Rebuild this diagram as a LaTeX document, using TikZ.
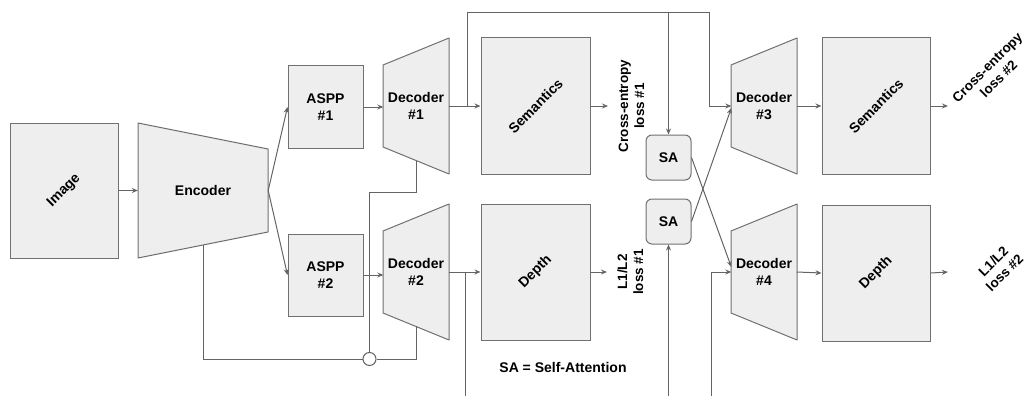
\documentclass[tikz,border=0pt]{standalone}
\usepackage{fontspec}
\setmainfont{Liberation Sans}
\usepackage{tikz}
\usetikzlibrary{arrows.meta, positioning, calc}
\definecolor{boxgray}{RGB}{238,238,238}
\definecolor{edgegray}{RGB}{112,112,112}
\definecolor{wiregray}{RGB}{100,100,100}
\newcommand{\twolines}[2]{\begin{tabular}{@{}c@{}}#1\\#2\end{tabular}}
\tikzset{
  block/.style={rectangle, draw=edgegray, fill=boxgray, align=center,
    font=\fontsize{14}{17}\selectfont\bfseries, line width=1pt, inner sep=0pt},
  tapered/.style={draw=edgegray, fill=boxgray, line width=1pt, line join=round},
  taptext/.style={rectangle, align=center, font=\fontsize{14}{17}\selectfont\bfseries,
    minimum width=65pt, minimum height=82pt, inner sep=0pt},
  samodule/.style={block, rounded corners=6pt, minimum width=45pt, minimum height=45pt},
  losstext/.style={align=center, font=\fontsize{13.5}{16}\selectfont\bfseries, inner sep=0pt},
  arrow/.style={-{Stealth[length=6pt, width=5pt]}, line width=1pt, color=wiregray},
  line/.style={line width=1pt, color=wiregray}
}

\begin{document}
\begin{tikzpicture}[x=1pt, y=-1pt]
  \useasboundingbox (0,0) rectangle (1033,396);
  % Input and encoder
  \node[block, minimum width=108pt, minimum height=135pt] (img) at (64,190.5) {\rotatebox{45}{Image}};
  \draw[tapered] (138,123) -- (268,149) -- (268,232) -- (138,258) -- cycle;
  \node[taptext, minimum width=130pt, minimum height=83pt] (enc) at (203,190.5) {Encoder};
  \coordinate (encbot) at (203,245);
  % ASPP blocks
  \node[block, minimum width=75pt, minimum height=82pt] (aspp1) at (325.5,107) {ASPP\\\#1};
  \node[block, minimum width=75pt, minimum height=82pt] (aspp2) at (325.5,275) {ASPP\\\#2};
  % Decoders, narrow side on the left
  \foreach \x/\y/\n in {383/106/1, 383/272/2, 731/106/3, 731/272/4} {
    \draw[tapered] (\x,\y-41) -- (\x+66,\y-68) -- (\x+66,\y+68) -- (\x,\y+41) -- cycle;
    \node[taptext] (dec\n) at (\x+33,\y) {Decoder\\\#\n};
  }
  % Task outputs
  \node[block, minimum width=109pt, minimum height=136pt] (sem1) at (535.5,106) {\rotatebox{45}{Semantics}};
  \node[block, minimum width=109pt, minimum height=136pt] (dep1) at (535.5,272) {\rotatebox{45}{Depth}};
  \node[block, minimum width=108pt, minimum height=136pt] (sem2) at (876,106) {\rotatebox{45}{Semantics}};
  \node[block, minimum width=108pt, minimum height=136pt] (dep2) at (876,273) {\rotatebox{45}{Depth}};
  % Self-attention
  \node[samodule] (sa1) at (668.5,157.5) {SA};
  \node[samodule] (sa2) at (668.5,221.5) {SA};
  \node[circle, draw=wiregray, fill=white, line width=1pt, minimum size=13pt, inner sep=0pt] (sum) at (369.5,359) {};
  % Losses
  \node[losstext] (ce1) at (633,106) {\rotatebox{90}{\twolines{Cross-entropy}{loss \#1}}};
  \node[losstext] (l1) at (632,272) {\rotatebox{90}{\twolines{L1/L2}{loss \#1}}};
  \node[losstext] (ce2) at (994,74) {\rotatebox{45}{\twolines{Cross-entropy}{loss \#2}}};
  \node[losstext] (l2) at (1000,268) {\rotatebox{45}{\twolines{L1/L2}{loss \#2}}};
  \node[font=\fontsize{14}{17}\selectfont\bfseries] (sanote) at (563,367) {SA = Self-Attention};
  \coordinate (ce1in) at (608,106);
  \coordinate (l1in) at (607,272);
  \coordinate (ce2in) at (948,106);
  \coordinate (l2in) at (948,272);
  % Main path
  \draw[arrow] (img.east) -- (enc.west);
  \draw[arrow] (enc.east) -- (aspp1.west);
  \draw[arrow] (enc.east) -- (aspp2.west);
  \draw[arrow] (aspp1.east) -- (aspp1.east -| dec1.west);
  \draw[arrow] (aspp2.east) -- (aspp2.east -| dec2.west);
  \draw[arrow] (dec1.east) -- (sem1.west);
  \draw[arrow] (dec2.east) -- (dep1.west);
  \draw[arrow] (sem1.east) -- (ce1in);
  \draw[arrow] (dep1.east) -- (l1in);
  \draw[arrow] (dec3.east) -- (sem2.west);
  \draw[arrow] (dec4.east) -- (dep2.west);
  \draw[arrow] (sem2.east) -- (ce2in);
  \draw[arrow] (dep2.east) -- (l2in);
  % Skip connections
  \coordinate (dec1bot) at (416,161);
  \coordinate (dec2bot) at (416,326);
  \coordinate (skipknee) at (369.5,192);
  \draw[line] (encbot) |- (sum.west);
  \draw[line] (sum.east) -| (dec2bot);
  \draw[line] (sum.north) -- (skipknee) -| (dec1bot);
  % Second stage feeds
  \coordinate (tap1) at (467,106);
  \coordinate (topL) at (467,13);
  \coordinate (topR) at (709,13);
  \draw[arrow] (tap1) -- (topL) -- (topR) |- (dec3.west);
  \draw[arrow] (sa1 |- topL) -- (sa1.north);
  \coordinate (tap2) at (465,272);
  \coordinate (botL) at (465,396);
  \coordinate (botR) at (711,396);
  \draw[line] (tap2) -- (botL);
  \draw[arrow] (sa2 |- botL) -- (sa2.south);
  \draw[arrow] (botR) |- (dec4.west);
  \draw[arrow] (sa1.east) -- ([yshift=5pt]dec4.west);
  \draw[arrow] (sa2.east) -- ([yshift=-2pt]dec3.west);
\end{tikzpicture}
\end{document}
